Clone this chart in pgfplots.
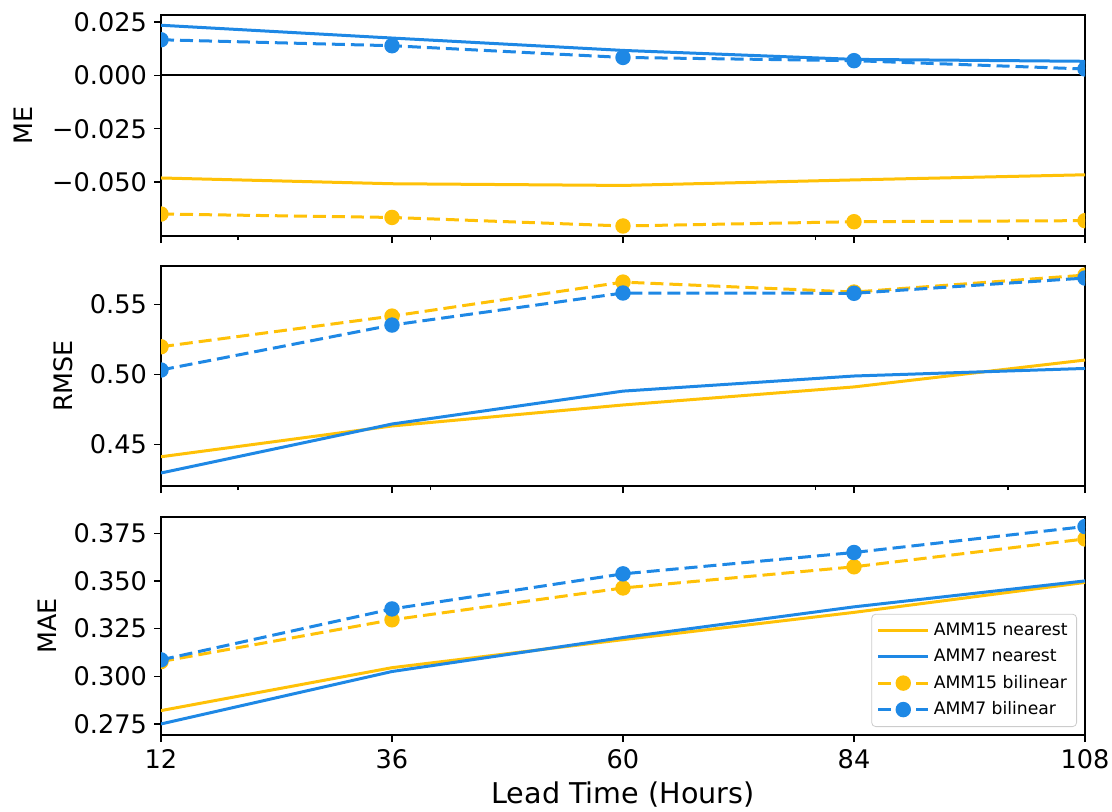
\documentclass[border=0pt]{standalone}
\usepackage{fontspec}
\setmainfont{DejaVu Sans}
\usepackage{pgfplots}
\pgfplotsset{compat=1.18}

\definecolor{amber}{HTML}{FFC107}
\definecolor{azure}{HTML}{1E88E5}

\pgfplotsset{
  panel/.style={
    scale only axis, width=462pt, xmin=12, xmax=108,
    axis line style={line width=0.65pt},
    tick align=outside, xtick pos=bottom, ytick pos=left,
    xtick={12,36,60,84,108},
    scaled y ticks=false, scaled x ticks=false,
    major tick length=3.5pt, minor tick length=2pt,
    every tick/.style={black, line width=0.6pt},
    tick label style={font=\fontsize{12.8}{14}\selectfont},
    ylabel style={font=\fontsize{12.7}{15}\selectfont, anchor=center},
    /pgf/number format/assume math mode=true,
    clip marker paths=true,
  },
  nearest/.style={line width=1.5pt, no markers},
  bilinear/.style={line width=1.5pt, dash pattern=on 6.5pt off 3pt,
    mark=*, mark size=3.1pt, mark options={solid}},
}

\begin{document}
\begin{tikzpicture}
\useasboundingbox (0,0) rectangle (556pt,405.5pt);

% Mean error
\begin{axis}[panel, at={(80.5pt,287.5pt)}, anchor=south west, height=110.5pt,
  ymin=-0.0753, ymax=0.0283,
  ytick={-0.05,-0.025,0,0.025},
  yticklabels={−0.050,−0.025,0.000,0.025},
  xticklabels={}, minor xtick={20,40,80,100},
  ylabel={ME}, ylabel style={at={(axis description cs:-0.149,0.5)}}]
  \addplot[black, line width=0.9pt, forget plot] coordinates {(12,0) (108,0)};
  \addplot[nearest, amber] coordinates {(12,-0.0481) (36,-0.0508) (60,-0.0516) (84,-0.0490) (108,-0.0466)};
  \addplot[nearest, azure] coordinates {(12,0.0235) (36,0.0175) (60,0.0117) (84,0.0075) (108,0.0066)};
  \addplot[bilinear, amber] coordinates {(12,-0.0650) (36,-0.0666) (60,-0.0706) (84,-0.0686) (108,-0.0681)};
  \addplot[bilinear, azure] coordinates {(12,0.0167) (36,0.0139) (60,0.0084) (84,0.0069) (108,0.0030)};
\end{axis}

% Root mean square error
\begin{axis}[panel, at={(80.5pt,162.5pt)}, anchor=south west, height=110pt,
  ymin=0.4202, ymax=0.5774,
  ytick={0.45,0.5,0.55},
  yticklabels={0.45,0.50,0.55},
  xticklabels={}, minor xtick={20,40,80,100},
  ylabel={RMSE}, ylabel style={at={(axis description cs:-0.106,0.5)}}]
  \addplot[nearest, amber] coordinates {(12,0.4411) (36,0.4631) (60,0.4781) (84,0.4910) (108,0.5102)};
  \addplot[nearest, azure] coordinates {(12,0.4295) (36,0.4645) (60,0.4880) (84,0.4988) (108,0.5042)};
  \addplot[bilinear, amber] coordinates {(12,0.5197) (36,0.5416) (60,0.5659) (84,0.5588) (108,0.5709)};
  \addplot[bilinear, azure] coordinates {(12,0.5031) (36,0.5352) (60,0.5581) (84,0.5579) (108,0.5688)};
\end{axis}

% Mean absolute error
\begin{axis}[panel, at={(80.5pt,38pt)}, anchor=south west, height=109pt,
  ymin=0.2692, ymax=0.3835,
  ytick={0.275,0.3,0.325,0.35,0.375},
  yticklabels={0.275,0.300,0.325,0.350,0.375},
  xticklabels={12,36,60,84,108},
  xlabel={Lead Time (Hours)},
  xlabel style={font=\fontsize{14.3}{16}\selectfont},
  ylabel={MAE}, ylabel style={at={(axis description cs:-0.123,0.5)}},
  legend cell align=left,
  legend style={at={(1,0)}, anchor=south east, xshift=-4pt, yshift=4pt,
    font=\fontsize{8.6}{13}\selectfont, draw=black!20, rounded corners=2pt,
    inner sep=2.5pt, row sep=1.2pt},
  legend image code/.code={\draw[mark repeat=2, mark phase=2, #1]
    plot coordinates {(0cm,0cm) (0.44cm,0cm) (0.88cm,0cm)};}]
  \addplot[nearest, amber] coordinates {(12,0.2820) (36,0.3045) (60,0.3192) (84,0.3335) (108,0.3492)};
  \addlegendentry{AMM15 nearest}
  \addplot[nearest, azure] coordinates {(12,0.2750) (36,0.3025) (60,0.3203) (84,0.3364) (108,0.3500)};
  \addlegendentry{AMM7 nearest}
  \addplot[bilinear, amber] coordinates {(12,0.3077) (36,0.3296) (60,0.3463) (84,0.3574) (108,0.3720)};
  \addlegendentry{AMM15 bilinear}
  \addplot[bilinear, azure] coordinates {(12,0.3086) (36,0.3353) (60,0.3537) (84,0.3649) (108,0.3785)};
  \addlegendentry{AMM7 bilinear}
\end{axis}
\end{tikzpicture}
\end{document}
